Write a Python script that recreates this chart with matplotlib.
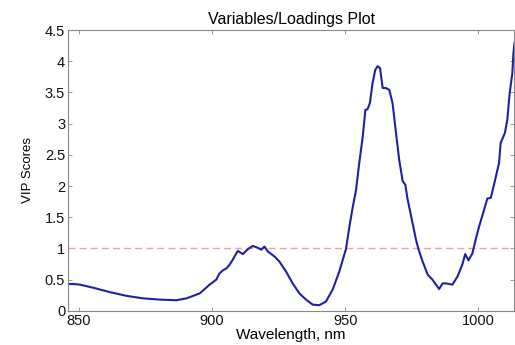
import matplotlib
matplotlib.use('Agg')
import matplotlib.pyplot as plt
import numpy as np

plt.rcParams['font.family'] = ['Liberation Sans', 'DejaVu Sans']

# wavelength (nm) and VIP score
wavelength = [845.9, 848.0, 850.4, 855.4, 861.6, 867.9, 874.1, 880.4, 886.6, 890.4,
              895.4, 899.1, 901.6, 902.8, 904.1, 905.4, 906.6, 907.8, 909.1, 909.7,
              911.6, 913.5, 915.3, 917.2, 918.5, 919.7, 921.0, 923.5, 925.3, 927.8,
              930.3, 932.8, 935.3, 937.8, 940.3, 942.8, 945.3, 947.8, 950.3, 951.6,
              952.8, 954.1, 955.3, 956.6, 957.6, 958.4, 959.3, 960.3, 961.3, 962.2,
              963.1, 964.1, 965.3, 966.6, 967.8, 969.1, 970.3, 971.6, 972.6, 973.4,
              975.3, 976.6, 977.6, 979.1, 981.0, 982.8, 984.1, 985.3, 986.6, 987.8,
              990.3, 992.2, 994.0, 995.1, 996.3, 997.8, 999.0, 1000.3, 1002.2, 1003.4,
              1004.7, 1005.9, 1007.8, 1008.4, 1010.0, 1010.9, 1011.8, 1012.8, 1013.2, 1013.6]
vip = [0.43, 0.43, 0.42, 0.37, 0.30, 0.24, 0.20, 0.18, 0.17, 0.20,
       0.28, 0.42, 0.50, 0.60, 0.65, 0.68, 0.74, 0.82, 0.92, 0.96,
       0.91, 0.99, 1.04, 1.01, 0.98, 1.03, 0.95, 0.87, 0.79, 0.63,
       0.44, 0.28, 0.18, 0.10, 0.09, 0.15, 0.34, 0.63, 0.99, 1.35,
       1.65, 1.94, 2.37, 2.79, 3.22, 3.23, 3.33, 3.65, 3.86, 3.92,
       3.89, 3.57, 3.57, 3.54, 3.33, 2.85, 2.42, 2.08, 2.02, 1.80,
       1.41, 1.14, 0.98, 0.79, 0.58, 0.50, 0.42, 0.35, 0.44, 0.44,
       0.42, 0.55, 0.74, 0.91, 0.81, 0.92, 1.14, 1.35, 1.62, 1.80,
       1.81, 2.02, 2.37, 2.69, 2.85, 3.06, 3.49, 3.81, 4.13, 4.29]
threshold = 1.0

x_ticks = [850, 900, 950, 1000]
y_ticks = [0, 0.5, 1, 1.5, 2, 2.5, 3, 3.5, 4, 4.5]
y_tick_labels = ['0', '0.5', '1', '1.5', '2', '2.5', '3', '3.5', '4', '4.5']

fig = plt.figure(figsize=(5.15, 3.45), dpi=100)
ax = fig.add_axes([0.132, 0.099, 0.867, 0.814])

ax.axhline(threshold, color='#e3a5a5', linestyle=(0, (5, 3)), linewidth=1.0)
ax.plot(wavelength, vip, color='#2020a4', linewidth=1.5)

ax.set_xlim(845.9, 1013.6)
ax.set_ylim(0, 4.5)
ax.set_xticks(x_ticks)
ax.set_yticks(y_ticks)
ax.set_yticklabels(y_tick_labels)
ax.tick_params(direction='in', top=True, right=True, length=3, width=0.6,
               color='#888888', labelsize=10.5, labelcolor='#111111', pad=2)
for s in ax.spines.values():
    s.set_color('#888888')
    s.set_linewidth(0.8)

ax.set_title('Variables/Loadings Plot', fontsize=11.5, pad=4)
ax.set_xlabel('Wavelength, nm', fontsize=11, labelpad=0)
ax.set_ylabel('VIP Scores', fontsize=9.5, labelpad=8)

fig.savefig('out.png', dpi=100)
